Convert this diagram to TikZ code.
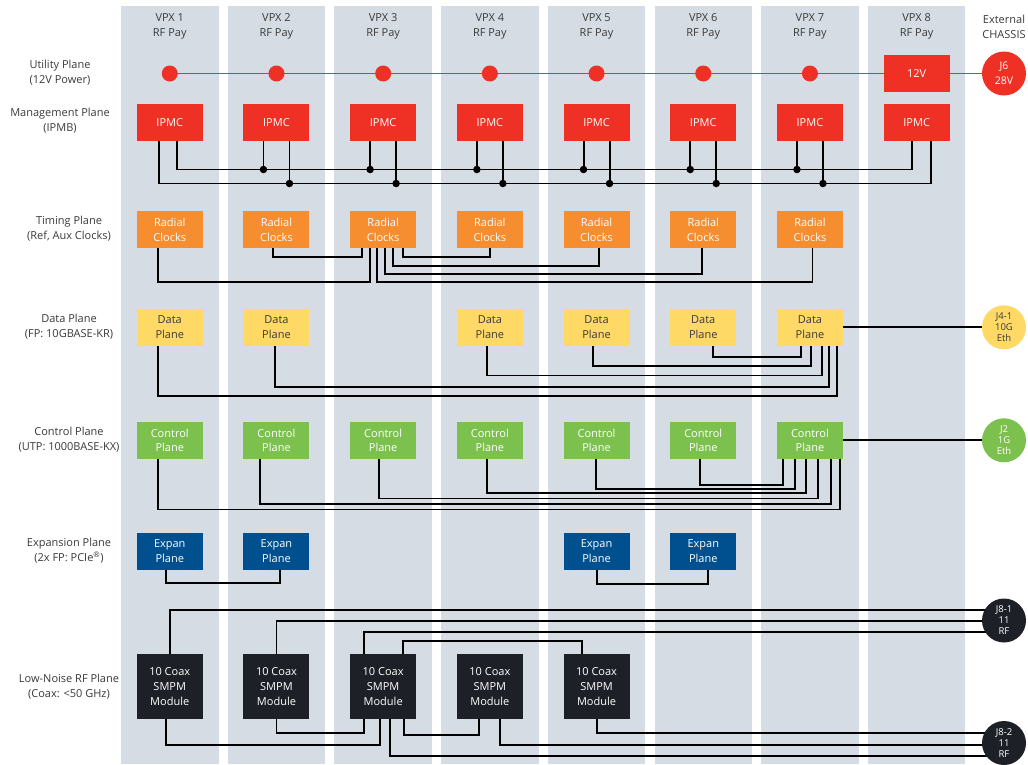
\documentclass[tikz,border=0pt]{standalone}
\usepackage{fontspec}
\setmainfont{Open Sans}
\definecolor{colbg}{HTML}{D6DCE4}
\definecolor{ured}{HTML}{EE3124}
\definecolor{uorange}{HTML}{F68D2E}
\definecolor{uyellow}{HTML}{FFD966}
\definecolor{ugreen}{HTML}{7CC04E}
\definecolor{ublue}{HTML}{00508F}
\definecolor{udark}{HTML}{1D2026}
\definecolor{txt}{HTML}{3A3A3A}
\pgfdeclarelayer{back}
\pgfdeclarelayer{mid}
\pgfsetlayers{back,mid,main}
\begin{document}
\begin{tikzpicture}[x=1pt,y=-1pt,
  font=\fontsize{11}{14.8}\selectfont,
  box/.style={rectangle,minimum width=66pt,minimum height=37pt,inner sep=0pt,align=center,text=white},
  rfbox/.style={box,minimum height=65pt,fill=udark},
  udot/.style={circle,fill=ured,minimum size=16pt,inner sep=0pt},
  jdot/.style={circle,fill=black,minimum size=7.5pt,inner sep=0pt},
  circ/.style={circle,minimum size=44pt,inner sep=0pt,align=center,font=\fontsize{9.5}{11}\selectfont},
  lbl/.style={align=center,text=txt},
  wire/.style={line width=1.9pt,black},
  pwire/.style={line width=1.9pt,ured}]
\useasboundingbox (0,0) rectangle (1028,764);
\begin{pgfonlayer}{back}
\fill[white] (0,0) rectangle (1028,764);
\foreach \i in {1,...,8} {
  \pgfmathsetmacro\cx{169.75+(\i-1)*106.7}
  \fill[colbg] (\cx-48.75,6) rectangle (\cx+48.75,764);
}
\end{pgfonlayer}
% headers
\foreach \i in {1,...,8} {
  \node[lbl] (h\i) at ({169.75+(\i-1)*106.7},26.5) {VPX \i\\RF Pay};
}
\node[lbl] (hx) at (1004,26.5) {External\\CHASSIS};
% row labels
\node[lbl] (l1) at (60,73) {Utility Plane\\(12V Power)};
\node[lbl] (l2) at (60,121) {Management Plane\\(IPMB)};
\node[lbl] (l3) at (69,229) {Timing Plane\\(Ref, Aux Clocks)};
\node[lbl] (l4) at (69,327) {Data Plane\\(FP: 10GBASE-KR)};
\node[lbl] (l5) at (69,440) {Control Plane\\(UTP: 1000BASE-KX)};
\node[lbl] (l6) at (69,551) {Expansion Plane\\(2x FP: PCIe\textsuperscript{\textregistered})};
\node[lbl] (l7) at (69,686.5) {Low-Noise RF Plane\\(Coax: <50 GHz)};
% utility
\foreach \i in {1,...,7} {
  \node[udot] (u\i) at ({169.75+(\i-1)*106.7},73.5) {};
}
\node[box,fill=ured] (v12) at (916.65,73.5) {12V};
\node[circ,fill=ured,text=white,font=\fontsize{10.5}{15}\selectfont] (j6) at (1004,73.5) {J6\\28V};
% IPMC
\foreach \i in {1,...,8} {
  \node[box,fill=ured] (ipmc\i) at ({169.75+(\i-1)*106.7},122.3) {IPMC};
}
% timing
\foreach \i in {1,...,7} {
  \node[box,fill=uorange] (tc\i) at ({169.75+(\i-1)*106.7},229.5) {Radial\\Clocks};
}
% data
\foreach \i in {1,2,4,5,6,7} {
  \node[box,fill=uyellow,text=txt] (dp\i) at ({169.75+(\i-1)*106.7},327.3) {Data\\Plane};
}
\node[circ,fill=uyellow,text=txt] (j41) at (1004,327.3) {J4-1\\10G\\Eth};
% control
\foreach \i in {1,...,7} {
  \node[box,fill=ugreen] (cp\i) at ({169.75+(\i-1)*106.7},440.3) {Control\\Plane};
}
\node[circ,fill=ugreen,text=white] (j2) at (1004,440.3) {J2\\1G\\Eth};
% expansion
\foreach \i in {1,2,5,6} {
  \node[box,fill=ublue] (ep\i) at ({169.75+(\i-1)*106.7},551.3) {Expan\\Plane};
}
% RF
\foreach \i in {1,...,5} {
  \node[rfbox] (rf\i) at ({169.75+(\i-1)*106.7},686.7) {10 Coax\\SMPM\\Module};
}
\node[circ,fill=udark,text=white] (j81) at (1004,620.5) {J8-1\\11\\RF};
\node[circ,fill=udark,text=white] (j82) at (1004,743) {J8-2\\11\\RF};

\begin{pgfonlayer}{mid}
% utility line
\draw[pwire] (u1) -- (j6);
% IPMB buses
\draw[wire] ([xshift=-10.8pt]ipmc1.south) -- ++(0,42.5) -| ([xshift=14.3pt]ipmc8.south);
\draw[wire] ([xshift=7pt]ipmc1.south) -- ++(0,28.5) -| ([xshift=-4.3pt]ipmc8.south);
\foreach \i in {2,...,7} {
  \draw[wire] ([xshift=-13pt]ipmc\i.south) -- ++(0,28.5) node[jdot]{};
  \draw[wire] ([xshift=13pt]ipmc\i.south) -- ++(0,42.5) node[jdot]{};
}
% timing
\draw[wire] ([xshift=-3.1pt]tc2.south) -- ++(0,8.7) -| ([xshift=-20.8pt]tc3.south);
\draw[wire] ([xshift=-11.4pt]tc1.south) -- ++(0,33.7) -| ([xshift=-12.8pt]tc3.south);
\draw[wire] ([xshift=-6.5pt]tc3.south) -- ++(0,33.7) -| ([xshift=2.5pt]tc7.south);
\draw[wire] ([xshift=1.9pt]tc3.south) -- ++(0,26) -| ([xshift=-1.2pt]tc6.south);
\draw[wire] ([xshift=10.2pt]tc3.south) -- ++(0,17.5) -| ([xshift=2pt]tc5.south);
\draw[wire] ([xshift=19.5pt]tc3.south) -- ++(0,8.5) -| (tc4.south);
% data
\draw[wire] ([xshift=10pt]dp6.south) -- ++(0,10.9) -| ([xshift=-9.3pt]dp7.south);
\draw[wire] ([xshift=-3.2pt]dp5.south) -- ++(0,20.2) -| ([xshift=1pt]dp7.south);
\draw[wire] ([xshift=-3.2pt]dp4.south) -- ++(0,29.5) -| ([xshift=11.7pt]dp7.south);
\draw[wire] ([xshift=-1.2pt]dp2.south) -- ++(0,41.2) -| ([xshift=19pt]dp7.south);
\draw[wire] ([xshift=-11.4pt]dp1.south) -- ++(0,49.9) -| ([xshift=27pt]dp7.south);
\draw[wire] (dp7.east) -- (j41);
% control
\draw[wire] ([xshift=-3.2pt]cp6.south) -- ++(0,26.2) -| ([xshift=-26.7pt]cp7.south);
\draw[wire] ([xshift=-1pt]cp5.south) -- ++(0,30.2) -| ([xshift=-14.8pt]cp7.south);
\draw[wire] ([xshift=-2.8pt]cp4.south) -- ++(0,33.9) -| ([xshift=-4.3pt]cp7.south);
\draw[wire] ([xshift=-3.8pt]cp3.south) -- ++(0,39.5) -| ([xshift=8.3pt]cp7.south);
\draw[wire] ([xshift=-16.5pt]cp2.south) -- ++(0,44.7) -| ([xshift=20.7pt]cp7.south);
\draw[wire] ([xshift=-11.4pt]cp1.south) -- ++(0,50.5) -| ([xshift=30pt]cp7.south);
\draw[wire] (cp7.east) -- (j2);
% expansion
\draw[wire] ([xshift=-3.75pt]ep1.south) -- ++(0,13.2) -| ([xshift=3.3pt]ep2.south);
\draw[wire] (ep5.south) -- ++(0,14.2) -| ([xshift=4.5pt]ep6.south);
% RF top
\draw[wire] (rf1.north) |- ([yshift=10.5pt]j81.center);
\draw[wire] (rf2.north) |- ([yshift=-0.5pt]j81.center);
\draw[wire] ([xshift=-19pt]rf3.north) |- ([yshift=-11.5pt]j81.center);
\draw[wire] ([xshift=19.5pt]rf3.north) -- ++(0,-12.7) -| ([xshift=-15pt]rf5.north);
% RF bottom
\draw[wire] ([xshift=-4pt]rf1.south) -- ++(0,25.3) -| ([xshift=-3.5pt]rf3.south);
\draw[wire] (rf2.south) -- ++(0,14) -| ([xshift=-19.5pt]rf3.south);
\draw[wire] ([xshift=7pt]rf3.south) |- ([yshift=-13pt]j82.center);
\draw[wire] ([xshift=21pt]rf3.south) -- ++(0,15.3) -| ([xshift=-10.5pt]rf4.south);
\draw[wire] ([xshift=9.7pt]rf4.south) |- ([yshift=-2pt]j82.center);
\draw[wire] (rf5.south) |- ([yshift=10pt]j82.center);
\end{pgfonlayer}
\end{tikzpicture}
\end{document}
